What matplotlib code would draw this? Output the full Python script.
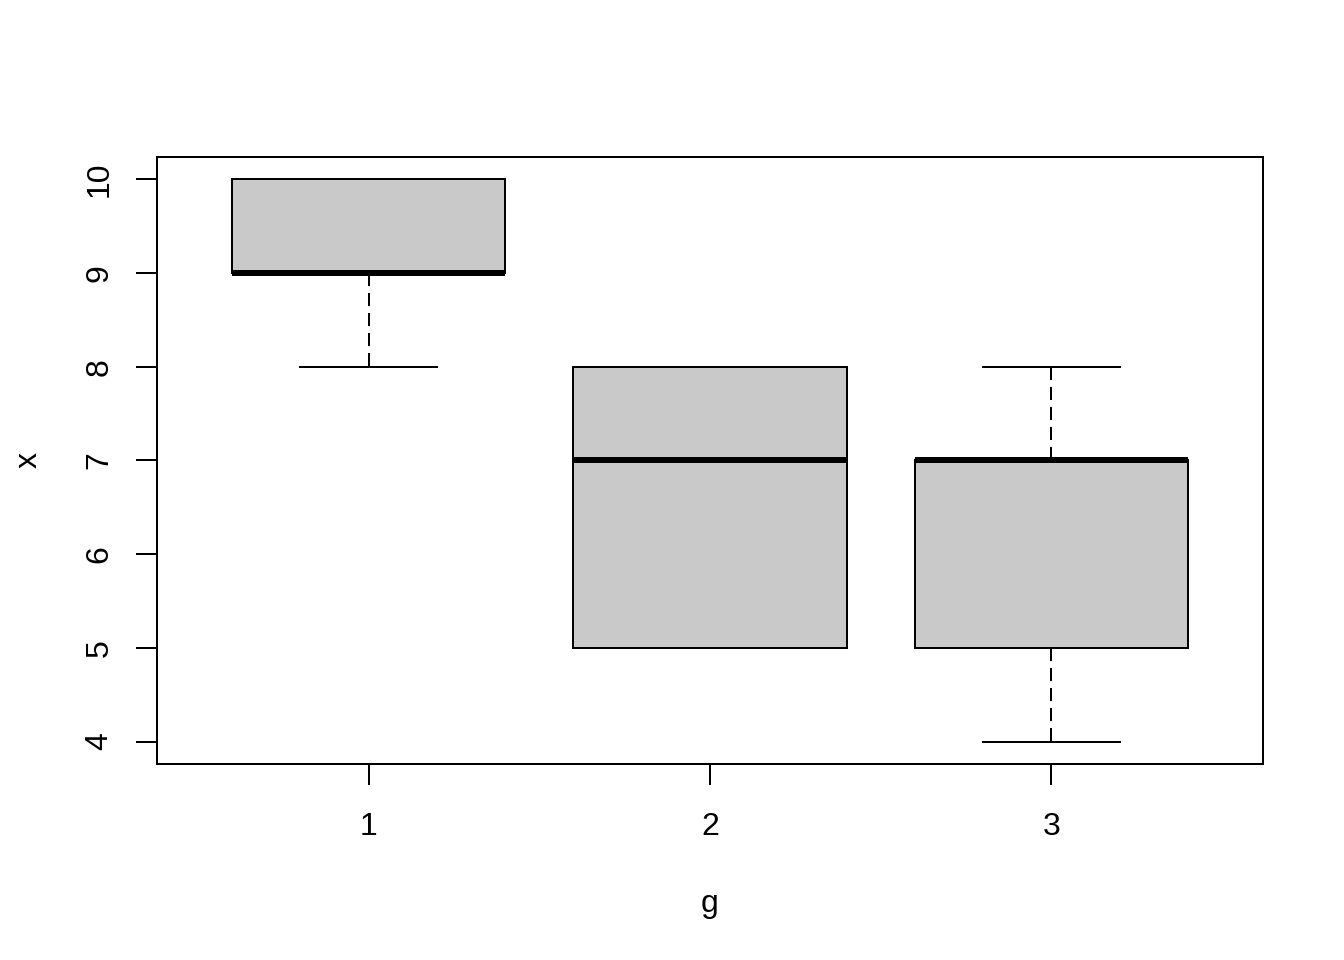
import matplotlib
matplotlib.use("Agg")
import matplotlib.pyplot as plt

plt.rcParams['font.family'] = ['Liberation Sans', 'DejaVu Sans']
plt.rcParams['lines.scale_dashes'] = False

groups = ["1", "2", "3"]
whislo = [8, 5, 4]
q1 = [9, 5, 5]
med = [9, 7, 7]
q3 = [10, 8, 7]
whishi = [10, 8, 8]
yticks = [4, 5, 6, 7, 8, 9, 10]

stats = [dict(label=g, whislo=a, q1=b, med=c, q3=d, whishi=e)
         for g, a, b, c, d, e in zip(groups, whislo, q1, med, q3, whishi)]

fig = plt.figure(figsize=(7, 5), dpi=192)
ax = fig.add_axes([157/1344, 1 - 764/960, (1263-157)/1344, (764-157)/960])

lw = 0.75
ax.bxp(stats, positions=[1, 2, 3], widths=0.8, patch_artist=True, showfliers=False,
       boxprops=dict(facecolor='#C9C9C9', edgecolor='black', linewidth=lw),
       medianprops=dict(color='black', linewidth=2.25, solid_capstyle='butt'),
       whiskerprops=dict(color='black', linewidth=lw, linestyle=(0, (4.9, 2.6))),
       capprops=dict(color='black', linewidth=lw), capwidths=0.4)

ax.set_xlim(0.38, 3.62)
ax.set_ylim(3.76, 10.24)
ax.set_xticks([1, 2, 3])
ax.set_xticklabels(groups)
ax.set_yticks(yticks)
ax.set_yticklabels([str(v) for v in yticks], rotation=90, va='center')
ax.tick_params(axis='both', length=7.9, width=lw, labelsize=12, direction='out', pad=10)
ax.tick_params(axis='y', pad=8)
for s in ax.spines.values():
    s.set_linewidth(lw)
ax.set_xlabel('g', fontsize=12, labelpad=17.7)
ax.set_ylabel('x', fontsize=12, labelpad=15.5)

fig.savefig('out.png', dpi=192)
